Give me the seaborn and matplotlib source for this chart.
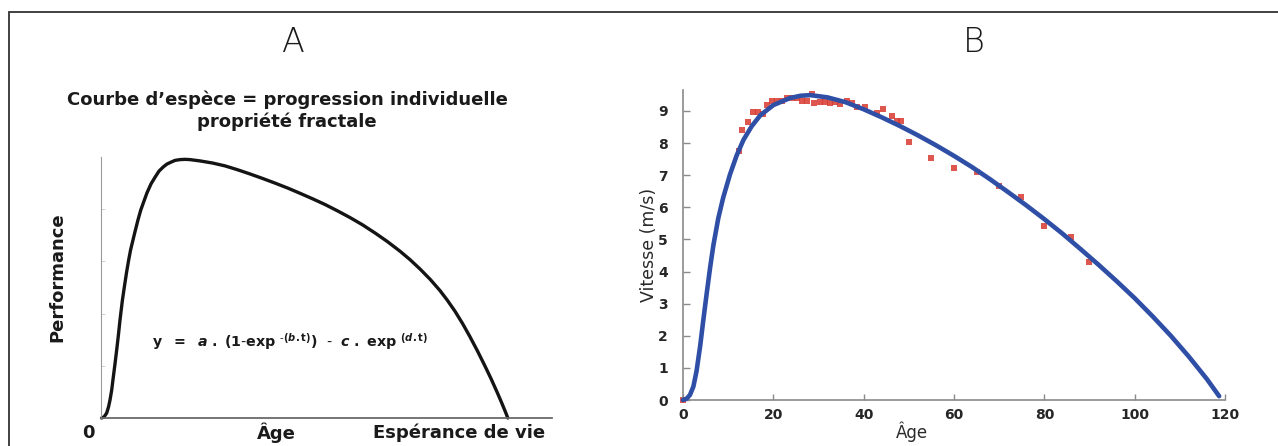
import matplotlib
matplotlib.use("Agg")
import matplotlib.pyplot as plt
from matplotlib.patches import Rectangle
from matplotlib.transforms import blended_transform_factory
import seaborn as sns
import pandas as pd

# ---- Panel A: generic species curve (relative age, relative performance) ----
age_rel = [0.11, 0.67, 1.26, 1.66, 2.00, 2.37, 2.73, 3.10, 3.48, 3.86, 4.21,
           4.75, 5.21, 5.65, 6.10, 6.56, 7.47, 8.20, 8.82, 9.53, 10.18, 11.09,
           12.00, 12.86, 13.81, 14.63, 15.61, 16.41, 17.52, 18.60, 19.73, 21.95,
           24.70, 27.49, 30.30, 33.04, 35.80, 38.58, 41.40, 44.12, 46.90, 49.67,
           52.40, 55.21, 58.00, 60.75, 63.50, 66.30, 68.50, 70.73, 73.00, 75.17,
           76.80, 78.49, 80.20, 81.82, 83.50, 85.14, 86.50, 87.80, 88.80, 89.80,
           90.20]
perf_rel = [0.000, 0.004, 0.019, 0.042, 0.069, 0.107, 0.157, 0.207, 0.261, 0.318,
            0.375, 0.452, 0.506, 0.556, 0.602, 0.644, 0.709, 0.759, 0.797, 0.831,
            0.862, 0.897, 0.923, 0.946, 0.962, 0.973, 0.981, 0.987, 0.990, 0.991,
            0.990, 0.985, 0.977, 0.966, 0.951, 0.935, 0.918, 0.900, 0.881, 0.861,
            0.840, 0.818, 0.794, 0.768, 0.740, 0.709, 0.676, 0.639, 0.607, 0.571,
            0.531, 0.488, 0.451, 0.409, 0.361, 0.311, 0.256, 0.199, 0.150, 0.100,
            0.060, 0.018, 0.000]
a_xlabels = ["0", "Âge", "Espérance de vie"]
a_xlabel_pos = [-2.7, 38.8, 79.4]

# ---- Panel B: speed vs age, fitted curve and records ----
fit_age = [0, 0.8, 1.55, 2.3, 3.0, 3.8, 4.5, 5.25, 6.0, 6.73, 7.8, 8.9, 10.4,
           11.9, 13.4, 15.2, 17.1, 20.0, 23.7, 26.0, 28.2, 32, 36, 40, 44, 48,
           52, 56, 60, 64, 68, 72, 76, 80, 84, 88, 92, 96, 100, 104, 108, 112,
           116, 118.7]
fit_speed = [0.0, 0.04, 0.16, 0.42, 0.90, 1.68, 2.49, 3.32, 4.12, 4.82, 5.65,
             6.30, 7.02, 7.62, 8.10, 8.52, 8.86, 9.18, 9.40, 9.47, 9.49, 9.42,
             9.27, 9.05, 8.80, 8.53, 8.24, 7.93, 7.60, 7.25, 6.87, 6.47, 6.06,
             5.63, 5.18, 4.70, 4.21, 3.70, 3.17, 2.60, 2.00, 1.35, 0.65, 0.12]

rec_age = [0, 12.3, 13.0, 14.5, 15.6, 16.7, 17.7, 18.6, 19.7, 20.8, 21.9, 23.0,
           24.1, 25.2, 26.3, 27.4, 28.5, 28.9, 30.4, 31.5, 32.6, 33.7, 34.8, 36.3,
           37.4, 38.5, 40.3, 43.0, 44.3, 46.3, 47.3, 48.2, 50.0, 54.9, 59.9, 65.1,
           69.9, 74.9, 79.9, 86.0, 89.9]
rec_speed = [0.0, 7.76, 8.42, 8.66, 8.97, 8.97, 8.90, 9.18, 9.31, 9.31, 9.31, 9.39,
             9.39, 9.39, 9.31, 9.31, 9.54, 9.25, 9.27, 9.27, 9.25, 9.27, 9.22, 9.31,
             9.25, 9.13, 9.13, 8.92, 9.05, 8.85, 8.69, 8.69, 8.04, 7.52, 7.21, 7.10,
             6.66, 6.33, 5.41, 5.06, 4.30]

b_xticks = [0, 20, 40, 60, 80, 100, 120]
b_yticks = [0, 1, 2, 3, 4, 5, 6, 7, 8, 9]

sns.set_theme(style="white")
plt.rcParams["font.family"] = ["DejaVu Sans"]

W, H = 1278, 446
fig = plt.figure(figsize=(W / 100, H / 100), dpi=100)

# outer frame
fig.patches.append(Rectangle((9 / W, -0.5), 2.0, 0.5 + 1 - 12 / H,
                             transform=fig.transFigure, fill=False,
                             edgecolor="#333333", linewidth=1.3))

# panel letters
for letter, px in (("A", 293), ("B", 974)):
    fig.text(px / W, 1 - 43 / H, letter, ha="center", va="center",
             fontsize=24, fontweight="ultralight", family=["DejaVu Sans"],
             color="#1a1a1a")

# ---------------- Panel A ----------------
axA = fig.add_axes([101 / W, 1 - 418 / H, (552 - 101) / W, (418 - 157) / H])
dfA = pd.DataFrame({"age": age_rel, "perf": perf_rel})
sns.lineplot(data=dfA, x="age", y="perf", ax=axA, color="#141414",
             linewidth=2.4, sort=False, clip_on=False)
axA.set_xlim(0, 100)
axA.set_ylim(0, 1)
for s in ("top", "right"):
    axA.spines[s].set_visible(False)
axA.spines["left"].set_color("#9a9a9a")
axA.spines["left"].set_linewidth(0.8)
axA.spines["bottom"].set_color("#6a6a6a")
axA.spines["bottom"].set_linewidth(1.3)
axA.set_xticks([])
axA.set_yticks([0.2, 0.4, 0.6, 0.8])
axA.tick_params(axis="y", direction="in", length=3, width=0.6,
                color="#c8c8c8", labelleft=False, left=True)
axA.set_xlabel("")
axA.set_ylabel("")
trA = blended_transform_factory(axA.transData, axA.transAxes)
for lab, pos in zip(a_xlabels, a_xlabel_pos):
    axA.text(pos, -0.058, lab, transform=trA, ha="center", va="center",
             fontsize=13, fontweight="bold", color="#1a1a1a")

fig.text(287 / W, 1 - 111 / H,
         "Courbe d\u2019espèce = progression individuelle\npropriété fractale",
         ha="center", va="center", fontsize=13, fontweight="bold",
         color="#1a1a1a", linespacing=1.22)
fig.text(57 / W, 1 - 277 / H, "Performance", rotation=90, ha="center",
         va="center", fontsize=13, fontweight="bold", color="#1a1a1a")

formula = (r"$\mathbf{y\ \ =\ \ }\mathbfit{a}\mathbf{\ .\ (1\text{-}exp\ }"
           r"^{\mathbf{\text{-}(}\mathbfit{b}\mathbf{.t)}}"
           r"\mathbf{)\ \ \text{-}\ \ }\mathbfit{c}\mathbf{\ .\ exp\ }"
           r"^{\mathbf{(}\mathbfit{d}\mathbf{.t)}}$")
fig.text(290 / W, 1 - 342 / H, formula, ha="center", va="center",
         fontsize=10.3, color="#1a1a1a")

# ---------------- Panel B ----------------
axB = fig.add_axes([683 / W, 1 - 400 / H, (1225 - 683) / W, (400 - 90) / H])
dfRec = pd.DataFrame({"age": rec_age, "speed": rec_speed})
dfFit = pd.DataFrame({"age": fit_age, "speed": fit_speed})
sns.scatterplot(data=dfRec, x="age", y="speed", ax=axB, color="#d8392f",
                marker="s", s=13, linewidth=0, alpha=0.85, zorder=2,
                clip_on=False)
sns.lineplot(data=dfFit, x="age", y="speed", ax=axB, color="#2f4fa6",
             linewidth=3.3, sort=False, zorder=3, clip_on=False)
axB.set_xlim(0, 120)
axB.set_ylim(0, 9.65)
for s in ("top", "right"):
    axB.spines[s].set_visible(False)
for s in ("left", "bottom"):
    axB.spines[s].set_color("#8a8a8a")
    axB.spines[s].set_linewidth(1.2)
axB.set_xticks(b_xticks)
axB.set_yticks(b_yticks)
axB.tick_params(axis="y", direction="in", length=5, width=1, color="#8a8a8a",
                pad=11, labelsize=10, labelcolor="#262626", left=True)
axB.tick_params(axis="x", direction="in", length=4, width=1, color="#8a8a8a",
                pad=6, labelsize=10, labelcolor="#262626", bottom=True)
for lab in axB.get_xticklabels() + axB.get_yticklabels():
    lab.set_fontweight("bold")
axB.set_xlabel("Âge", fontsize=12, color="#2a2a2a")
axB.set_ylabel("Vitesse (m/s)", fontsize=12.5, color="#2a2a2a")
axB.xaxis.set_label_coords((912 - 683) / (1225 - 683), (400 - 422) / 310)
axB.yaxis.set_label_coords((658 - 683) / (1225 - 683), 0.5)

fig.savefig("out.png", dpi=100, facecolor="white")
